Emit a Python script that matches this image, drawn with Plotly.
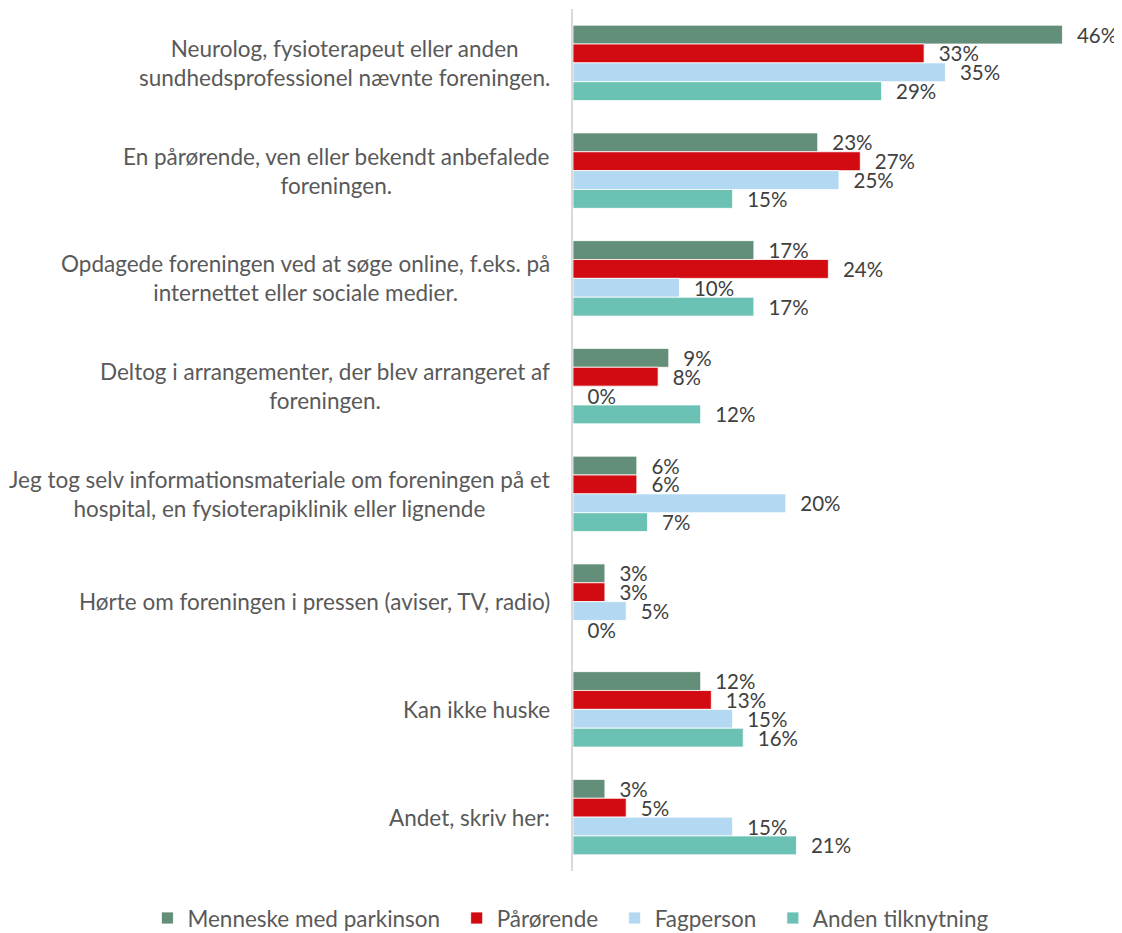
import plotly.graph_objects as go

categories = [
    "Neurolog, fysioterapeut eller anden<br>sundhedsprofessionel nævnte foreningen.",
    "En pårørende, ven eller bekendt anbefalede<br>foreningen.",
    "Opdagede foreningen ved at søge online, f.eks. på<br>internettet eller sociale medier.",
    "Deltog i arrangementer, der blev arrangeret af<br>foreningen.",
    "Jeg tog selv informationsmateriale om foreningen på et<br>hospital, en fysioterapiklinik eller lignende",
    "Hørte om foreningen i pressen (aviser, TV, radio)",
    "Kan ikke huske",
    "Andet, skriv her:",
]

series_names = ["Menneske med parkinson", "Pårørende", "Fagperson", "Anden tilknytning"]
menneske = [46, 23, 17, 9, 6, 3, 12, 3]
paaroerende = [33, 27, 24, 8, 6, 3, 13, 5]
fagperson = [35, 25, 10, 0, 20, 5, 15, 15]
anden = [29, 15, 17, 12, 7, 0, 16, 21]
colors = ["#638E79", "#D20A11", "#B3D9F2", "#6AC1B4"]
legend_pad = ["\u00a0\u00a0", "\u00a0\u00a0", "\u00a0\u00a0", ""]

FONT = "Lato"
fig = go.Figure()
for name, vals, col, pad in zip(series_names, [menneske, paaroerende, fagperson, anden], colors, legend_pad):
    fig.add_trace(go.Bar(
        y=categories, x=vals, name=name + pad, orientation="h",
        marker=dict(color=col, line=dict(color="white", width=0.8)),
        texttemplate="\u2002\u200a%{x}%", textposition="outside",
        textfont=dict(family=FONT, size=20.5, color="#404040"),
        constraintext="none", cliponaxis=False,
    ))

for c in categories:
    fig.add_annotation(
        x=0, xref="paper", y=c, yref="y", xshift=-21,
        xanchor="right", yanchor="middle", align="center",
        text=c, showarrow=False,
        font=dict(family=FONT, size=22.5, color="#595959"),
    )

fig.update_layout(
    width=1122, height=933,
    margin=dict(l=565, r=25, t=1, b=70),
    paper_bgcolor="white", plot_bgcolor="white",
    barmode="group", bargap=0.30, bargroupgap=0,
    showlegend=True,
    legend=dict(
        orientation="h",
        x=-0.80, xanchor="left", y=-0.030, yanchor="top",
        font=dict(family=FONT, size=22.5, color="#595959"),
        traceorder="normal", itemwidth=30,
    ),
    xaxis=dict(range=[0, 50], showticklabels=False, showgrid=False, zeroline=False, showline=False),
    yaxis=dict(autorange="reversed", showticklabels=False, showgrid=False, zeroline=False,
               showline=True, linecolor="#D9D9D9", linewidth=2, ticks=""),
)

fig.write_html("out.html")
